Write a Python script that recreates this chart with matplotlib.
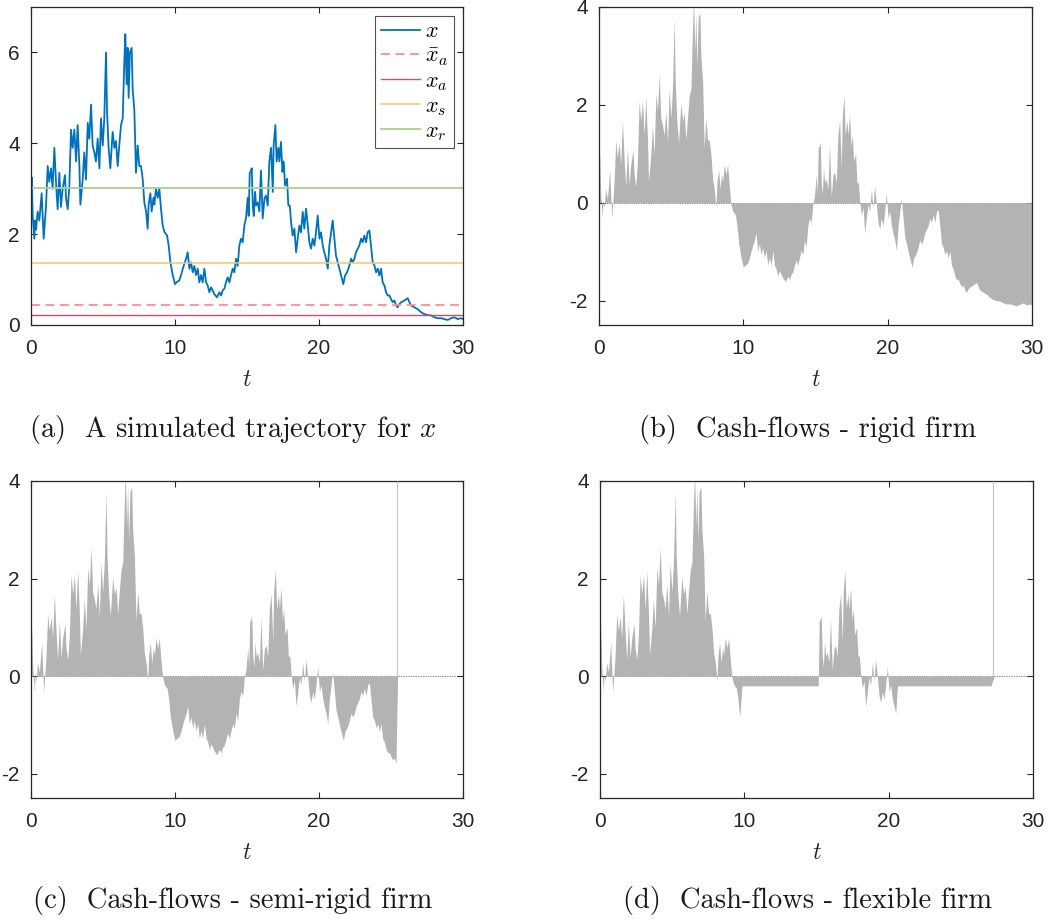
import numpy as np
import matplotlib.pyplot as plt

plt.rcParams['mathtext.fontset'] = 'cm'
plt.rcParams['font.family'] = 'Liberation Sans'
plt.rcParams['axes.unicode_minus'] = False

# simulated trajectory x(t)
t = np.array([
    0.00, 0.05, 0.12, 0.23, 0.28, 0.35, 0.46, 0.58, 0.69, 0.74, 0.88, 1.04, 1.16, 1.27, 1.39, 1.50,
    1.62, 1.76, 1.85, 1.97, 2.08, 2.20, 2.36, 2.43, 2.55, 2.66, 2.78, 2.89, 3.01, 3.13, 3.24, 3.36,
    3.43, 3.59, 3.70, 3.82, 3.94, 4.05, 4.17, 4.28, 4.40, 4.51, 4.63, 4.75, 4.86, 4.98, 5.09, 5.21,
    5.28, 5.39, 5.51, 5.67, 5.79, 5.90, 6.02, 6.13, 6.25, 6.37, 6.48, 6.55, 6.64, 6.71, 6.78, 6.87,
    6.99, 7.06, 7.18, 7.29, 7.41, 7.52, 7.64, 7.76, 7.87, 7.99, 8.10, 8.17, 8.29, 8.38, 8.50, 8.57,
    8.68, 8.80, 8.91, 9.03, 9.14, 9.26, 9.45, 9.56, 9.68, 9.84, 10.00, 10.14, 10.30, 10.42, 10.60, 10.77,
    10.88, 11.00, 11.11, 11.23, 11.34, 11.46, 11.58, 11.69, 11.81, 11.92, 12.04, 12.16, 12.27, 12.39, 12.50, 12.62,
    12.73, 12.92, 13.08, 13.20, 13.31, 13.43, 13.54, 13.66, 13.78, 13.89, 14.01, 14.12, 14.24, 14.35, 14.47, 14.58,
    14.70, 14.82, 14.93, 15.05, 15.12, 15.19, 15.25, 15.33, 15.40, 15.47, 15.56, 15.63, 15.74, 15.86, 15.97, 16.09,
    16.21, 16.32, 16.44, 16.55, 16.67, 16.79, 16.85, 16.97, 17.06, 17.18, 17.25, 17.36, 17.46, 17.55, 17.64, 17.78,
    17.87, 17.97, 18.06, 18.17, 18.29, 18.41, 18.52, 18.64, 18.75, 18.87, 18.98, 19.10, 19.22, 19.33, 19.45, 19.56,
    19.68, 19.79, 19.91, 20.03, 20.14, 20.26, 20.37, 20.49, 20.61, 20.72, 20.84, 20.95, 21.07, 21.18, 21.30, 21.41,
    21.53, 21.69, 21.81, 21.95, 22.11, 22.23, 22.34, 22.46, 22.57, 22.69, 22.80, 22.92, 23.03, 23.15, 23.27, 23.38,
    23.50, 23.61, 23.73, 23.85, 23.96, 24.08, 24.19, 24.31, 24.42, 24.54, 24.66, 24.77, 24.89, 25.00, 25.12, 25.24,
    25.35, 25.46, 25.58, 25.70, 25.93, 26.16, 26.28, 26.39, 26.62, 26.85, 27.09, 27.32, 27.55, 27.78, 28.01, 28.24,
    28.47, 28.71, 28.94, 29.17, 29.40, 29.63, 29.86, 30.00])
x = np.array([
    2.60, 3.25, 2.40, 1.90, 2.30, 2.10, 2.50, 2.30, 2.70, 2.90, 1.90, 2.60, 3.50, 3.15, 3.45, 3.00,
    3.90, 3.00, 2.55, 3.35, 2.60, 3.00, 3.30, 2.80, 2.55, 3.05, 4.30, 3.90, 4.30, 3.60, 4.40, 3.50,
    2.65, 3.20, 3.80, 3.20, 4.45, 4.10, 4.85, 3.95, 3.80, 3.60, 4.10, 3.45, 4.55, 3.95, 4.55, 6.00,
    4.70, 3.90, 3.45, 4.25, 3.90, 4.05, 3.50, 3.95, 4.40, 4.55, 5.80, 6.40, 5.30, 6.10, 5.00, 6.00,
    6.10, 5.20, 4.70, 3.35, 3.95, 3.50, 3.50, 3.20, 2.70, 2.50, 2.12, 2.65, 2.90, 2.50, 2.80, 2.65,
    3.00, 2.80, 3.00, 2.55, 2.20, 2.05, 1.97, 1.75, 1.38, 1.10, 0.90, 0.95, 0.98, 1.10, 1.30, 1.46,
    1.60, 1.24, 1.38, 1.16, 1.30, 1.10, 1.24, 0.94, 1.10, 0.94, 1.24, 0.94, 0.87, 0.72, 0.83, 0.76,
    0.68, 0.61, 0.72, 0.65, 0.76, 0.80, 0.94, 1.05, 0.94, 1.10, 1.24, 1.16, 1.46, 1.30, 1.75, 1.90,
    1.82, 2.20, 2.35, 2.80, 2.40, 3.35, 3.37, 3.45, 2.63, 2.40, 2.93, 2.63, 2.70, 2.50, 3.40, 2.35,
    2.78, 2.85, 2.63, 3.60, 3.90, 2.93, 3.95, 4.40, 3.60, 3.90, 3.60, 4.03, 3.37, 3.60, 3.07, 3.22,
    2.63, 2.63, 2.27, 1.97, 2.12, 1.60, 1.90, 2.19, 2.04, 2.49, 2.12, 2.56, 2.19, 1.82, 1.68, 1.90,
    1.75, 2.04, 2.41, 1.90, 2.04, 1.75, 1.60, 1.46, 1.24, 1.75, 2.04, 2.30, 1.90, 1.53, 1.38, 1.24,
    1.09, 0.90, 1.09, 1.16, 1.31, 1.46, 1.38, 1.46, 1.60, 1.68, 1.75, 1.90, 1.82, 1.97, 1.82, 2.04,
    2.08, 1.75, 1.38, 1.31, 1.16, 1.24, 1.09, 1.24, 0.94, 0.87, 0.72, 0.65, 0.65, 0.57, 0.50, 0.54,
    0.43, 0.39, 0.46, 0.50, 0.54, 0.59, 0.50, 0.43, 0.39, 0.35, 0.28, 0.24, 0.22, 0.21, 0.17, 0.15,
    0.15, 0.13, 0.11, 0.15, 0.17, 0.13, 0.15, 0.13])

# thresholds shown in panel (a)
x_bar_a = 0.43
x_a = 0.22
x_s = 1.37
x_r = 3.01

# cash-flow settings (b)-(d)
cost = 2.22
susp_cf = -0.2
t_ab_semi = 25.44
t_ab_flex = 27.25
suspensions = [(9.70, 15.18), (20.52, 27.25)]

cf_rigid = x - cost
cf_semi = np.where(t < t_ab_semi, x - cost, 0.0)
cf_flex = x - cost
for a, b in suspensions:
    cf_flex[(t >= a) & (t < b)] = susp_cf
cf_flex[t >= t_ab_flex] = 0.0

W, H = 1053, 922
fig = plt.figure(figsize=(W / 100, H / 100), dpi=100)

def box(l, top, r, bot):
    return [l / W, 1 - bot / H, (r - l) / W, (bot - top) / H]

ax_a = fig.add_axes(box(31, 7, 463, 325))
ax_b = fig.add_axes(box(599, 7, 1032, 325))
ax_c = fig.add_axes(box(31, 481, 463, 798))
ax_d = fig.add_axes(box(600, 481, 1033, 798))

axis_col = '#262626'
for ax in [ax_a, ax_b, ax_c, ax_d]:
    ax.set_xlim(0, 30)
    ax.set_xticks([0, 10, 20, 30])
    ax.tick_params(direction='in', top=True, right=True, length=4, width=0.8,
                   labelsize=15, colors=axis_col, pad=8)
    ax.tick_params(axis='x', pad=10)
    for s in ax.spines.values():
        s.set_linewidth(0.9)
        s.set_color(axis_col)
    ax.set_xlabel('$t$', fontsize=17, labelpad=8, color=axis_col)

# (a) trajectory
ax_a.plot(t, x, color='#0072BD', lw=1.3, label='$x$')
ax_a.axhline(x_bar_a, color='#FF8F8F', lw=1.3, ls=(0, (5, 3)), label=r'$\bar{x}_a$')
ax_a.axhline(x_a, color='#C9506B', lw=1.0, label='$x_a$')
ax_a.axhline(x_s, color='#F3C866', lw=1.1, label='$x_s$')
ax_a.axhline(x_r, color='#A9D18E', lw=1.3, label='$x_r$')
ax_a.set_ylim(0, 7)
ax_a.set_yticks([0, 2, 4, 6])
leg = ax_a.legend(loc='upper right', fontsize=16, frameon=True, fancybox=False,
                  edgecolor=axis_col, handlelength=1.75, labelspacing=0.15,
                  borderaxespad=0.4, handletextpad=0.25, borderpad=0.25)
leg.get_frame().set_linewidth(0.8)

# (b)-(d) cash flows
for ax, cf in [(ax_b, cf_rigid), (ax_c, cf_semi), (ax_d, cf_flex)]:
    ax.axhline(0, color='#8a8a8a', lw=0.7, ls=(0, (1.5, 1)), zorder=1)
    ax.fill_between(t, cf, 0, color='#b3b3b3', linewidth=0, zorder=2)
    ax.set_ylim(-2.5, 4)
    ax.set_yticks([-2, 0, 2, 4])
    ax.set_yticklabels(['-2', '0', '2', '4'])

ax_c.vlines(t_ab_semi, 0, 4, color='#c4c4c4', lw=0.8, zorder=3)
ax_d.vlines(t_ab_flex, 0, 4, color='#c4c4c4', lw=0.8, zorder=3)

cap = dict(fontsize=20.5, family='cmr10', ha='center', va='center', color='#1a1a1a')
fig.text(233 / W, 1 - 430 / H, '(a)  A simulated trajectory for $x$', **cap)
fig.text(808 / W, 1 - 430 / H, '(b)  Cash-flows - rigid firm', **cap)
fig.text(233 / W, 1 - 900 / H, '(c)  Cash-flows - semi-rigid firm', **cap)
fig.text(808 / W, 1 - 900 / H, '(d)  Cash-flows - flexible firm', **cap)

fig.savefig('out.png', dpi=100)
